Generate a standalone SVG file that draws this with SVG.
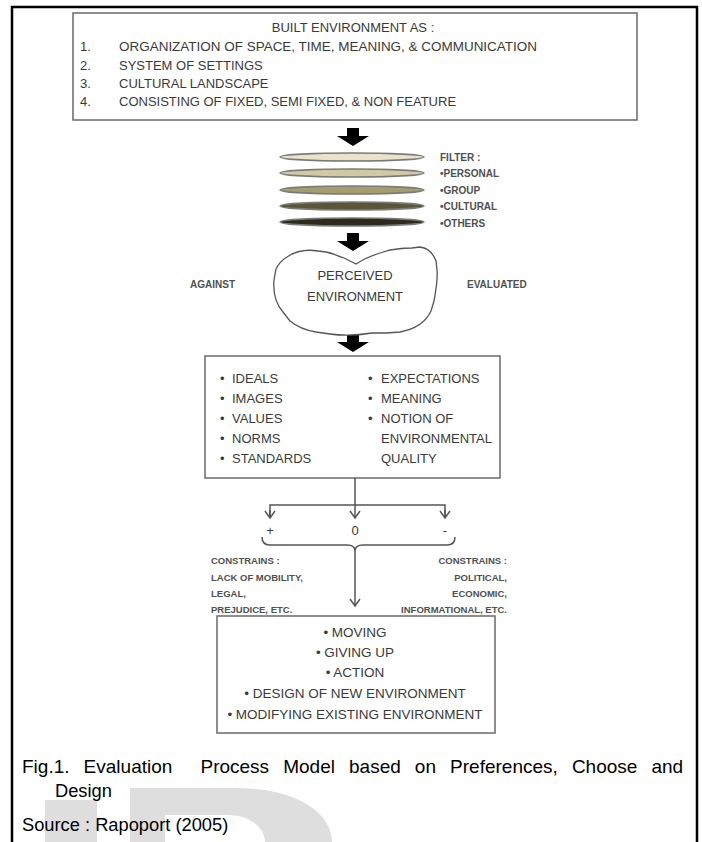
<svg xmlns="http://www.w3.org/2000/svg" width="702" height="842" viewBox="0 0 702 842">
<style>
.t{font-family:"Liberation Sans",Arial,sans-serif;fill:#3a3a3a;font-size:13px}
.s{font-family:"Liberation Sans",Arial,sans-serif;fill:#505050;font-size:9.5px;font-weight:bold}
.f{font-size:10px}
.c{font-family:"Liberation Sans",Arial,sans-serif;fill:#000;font-size:18.3px}
.box{fill:#fff;stroke:#6a6a6a;stroke-width:1.5}
.ln{fill:none;stroke:#555;stroke-width:1.5}
.ell{stroke:#7a7a7a;stroke-width:1.5}
</style>
<defs>
<path id="blk" d="M-6,0 H6 V8 H16 L0,18 L-16,8 H-6 Z" fill="#000"/>
<marker id="v" markerWidth="10" markerHeight="12" refX="8" refY="6" orient="auto" markerUnits="userSpaceOnUse" viewBox="0 0 10 12">
<path d="M1,1 L8,6 L1,11" fill="none" stroke="#555" stroke-width="1.5"/>
</marker>
</defs>
<rect width="702" height="842" fill="#fff"/>
<g id="watermark" fill="#dedede">
<rect x="45" y="800" width="52" height="42"/>
<path fill-rule="evenodd" d="M130,842 V788 H235 C295,788 332,812 332,842 Z M165,842 V815 H228 C250,815 265,828 265,842 Z"/>
</g>
<path id="frame" d="M12,842 V7 H697 V842" fill="none" stroke="#000" stroke-width="2.5"/>

<g id="built-environment">
<rect class="box" x="73" y="13" width="564" height="107"/>
<text class="t" x="353" y="32" text-anchor="middle">BUILT ENVIRONMENT AS :</text>
<text class="t" x="80" y="51">1.</text>
<text class="t" x="119" y="51" textLength="418" lengthAdjust="spacingAndGlyphs">ORGANIZATION OF SPACE, TIME, MEANING, &amp; COMMUNICATION</text>
<text class="t" x="80" y="70">2.</text>
<text class="t" x="119" y="70">SYSTEM OF SETTINGS</text>
<text class="t" x="80" y="88">3.</text>
<text class="t" x="119" y="88">CULTURAL LANDSCAPE</text>
<text class="t" x="80" y="106">4.</text>
<text class="t" x="119" y="106">CONSISTING OF FIXED, SEMI FIXED, &amp; NON FEATURE</text>
</g>

<g id="arrows">
<use href="#blk" x="353" y="128"/>
<use href="#blk" x="353" y="233"/>
<use href="#blk" x="353" y="334"/>
</g>

<g id="filter">
<ellipse class="ell" cx="352" cy="157" rx="72" ry="4" fill="#e8e4cb"/>
<ellipse class="ell" cx="352" cy="173" rx="72" ry="4" fill="#d0caa2"/>
<ellipse class="ell" cx="352" cy="190" rx="72" ry="4" fill="#a49d6d"/>
<ellipse class="ell" cx="352" cy="206" rx="72" ry="4" fill="#5b5637"/>
<ellipse class="ell" cx="352" cy="222" rx="72" ry="4" fill="#2d2b1c"/>
<text class="s f" x="440" y="161">FILTER :</text>
<text class="s f" x="440" y="177">•PERSONAL</text>
<text class="s f" x="440" y="194">•GROUP</text>
<text class="s f" x="440" y="210">•CULTURAL</text>
<text class="s f" x="440" y="227">•OTHERS</text>
</g>

<g id="perceived-environment">
<path d="M287,257 C296,251 306,249 318,251 L326,252 C332,253 338,256 344,258 L350,261 L356,264 C362,260 370,256 380,253 L390,250 C398,249 404,248 412,248 L420,247 C428,248 433,253 436,261 L437,270 C438,280 436,290 434,301 L431,311 C426,322 416,329 400,332 L386,333 L372,333 C360,335 344,336 330,334 L316,332 C304,330 296,326 290,321 L283,312 C276,304 273,292 274,280 L276,269 C279,263 282,260 287,257 Z" fill="#fff" stroke="#555" stroke-width="1.3"/>
<text class="t" x="355" y="280" text-anchor="middle">PERCEIVED</text>
<text class="t" x="355" y="301" text-anchor="middle">ENVIRONMENT</text>
</g>
<g id="against"><text class="s f" x="190" y="288">AGAINST</text></g>
<g id="evaluated"><text class="s f" x="467" y="288">EVALUATED</text></g>

<g id="values-box">
<rect class="box" x="205" y="356" width="295" height="122"/>
<text class="t" x="220" y="383">•</text><text class="t" x="232" y="383">IDEALS</text>
<text class="t" x="220" y="403">•</text><text class="t" x="232" y="403">IMAGES</text>
<text class="t" x="220" y="423">•</text><text class="t" x="232" y="423">VALUES</text>
<text class="t" x="220" y="443">•</text><text class="t" x="232" y="443">NORMS</text>
<text class="t" x="220" y="463">•</text><text class="t" x="232" y="463">STANDARDS</text>
<text class="t" x="368" y="383">•</text><text class="t" x="381" y="383">EXPECTATIONS</text>
<text class="t" x="368" y="403">•</text><text class="t" x="381" y="403">MEANING</text>
<text class="t" x="368" y="423">•</text><text class="t" x="381" y="423">NOTION OF</text>
<text class="t" x="381" y="443">ENVIRONMENTAL</text>
<text class="t" x="381" y="463">QUALITY</text>
</g>

<g id="connectors">
<line class="ln" x1="355" y1="478" x2="355" y2="518" marker-end="url(#v)"/>
<polyline class="ln" points="270,518 270,505 445,505 445,518"/>
<line class="ln" x1="270" y1="510" x2="270" y2="518" marker-end="url(#v)"/>
<line class="ln" x1="445" y1="510" x2="445" y2="518" marker-end="url(#v)"/>
<path class="ln" d="M262,537 Q262,545 270,545 H347 Q355,545 355,551 Q355,545 363,545 H447 Q455,545 455,537"/>
<line class="ln" x1="355" y1="551" x2="355" y2="606" marker-end="url(#v)"/>
</g>

<g id="outcomes">
<text class="t" x="270" y="535" text-anchor="middle">+</text>
<text class="t" x="355" y="535" text-anchor="middle">0</text>
<text class="t" x="445" y="535" text-anchor="middle">-</text>
</g>

<g id="constraints-left">
<text class="s" x="211" y="564">CONSTRAINS :</text>
<text class="s" x="211" y="581">LACK OF MOBILITY,</text>
<text class="s" x="211" y="597">LEGAL,</text>
<text class="s" x="211" y="613">PREJUDICE, ETC.</text>
</g>
<g id="constraints-right">
<text class="s" x="507" y="564" text-anchor="end">CONSTRAINS :</text>
<text class="s" x="507" y="581" text-anchor="end">POLITICAL,</text>
<text class="s" x="507" y="597" text-anchor="end">ECONOMIC,</text>
<text class="s" x="507" y="613" text-anchor="end">INFORMATIONAL, ETC.</text>
</g>

<g id="responses-box">
<rect class="box" x="217" y="616" width="278" height="117"/>
<text class="t" x="355" y="637" text-anchor="middle" style="font-size:13.5px">• MOVING</text>
<text class="t" x="355" y="657" text-anchor="middle" style="font-size:13.5px">• GIVING UP</text>
<text class="t" x="355" y="677" text-anchor="middle" style="font-size:13.5px">• ACTION</text>
<text class="t" x="355" y="698" text-anchor="middle" style="font-size:13.5px">• DESIGN OF NEW ENVIRONMENT</text>
<text class="t" x="355" y="719" text-anchor="middle" style="font-size:13.5px">• MODIFYING EXISTING ENVIRONMENT</text>
</g>

<g id="caption">
<text class="c" x="22" y="773" xml:space="preserve" style="font-size:19px;word-spacing:8.8px">Fig.1. Evaluation  Process Model based on Preferences, Choose and</text>
<text class="c" x="55" y="797">Design</text>
<text class="c" x="22" y="831">Source : Rapoport (2005)</text>
</g>
</svg>
